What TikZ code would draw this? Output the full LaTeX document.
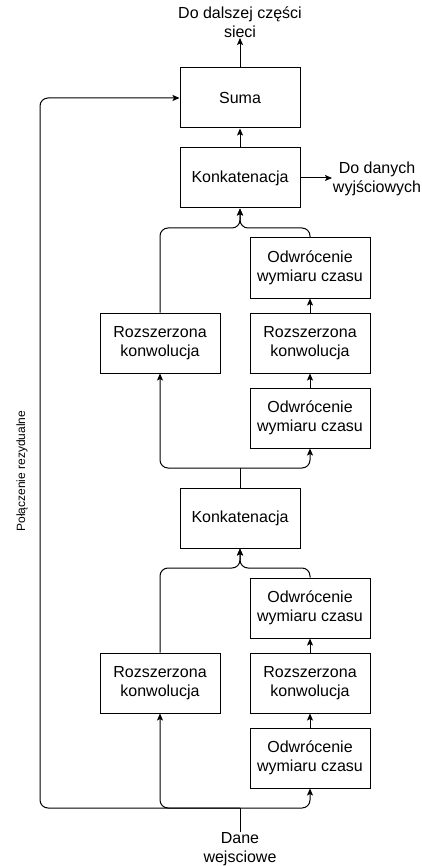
\documentclass[tikz,border=0pt]{standalone}
\usepackage{fontspec}
\setmainfont{Liberation Sans}
\usetikzlibrary{arrows.meta}
\begin{document}
\begin{tikzpicture}[x=1pt,y=-1pt,
  box/.style={draw,line width=1pt,minimum width=120pt,minimum height=60pt,inner sep=0pt,align=center,font=\fontsize{16}{19}\selectfont},
  lbl/.style={align=center,inner sep=0pt,font=\fontsize{16}{19}\selectfont},
  arr/.style={-{Stealth[length=7pt,width=6pt,inset=1.5pt]}},
  conn/.style={line width=1pt,rounded corners=8pt}]
\useasboundingbox (0,0) rectangle (421,866);
\node[box] (suma) at (240,98) {Suma};
\node[box] (konk1) at (240,178) {Konkatenacja};
\node[box] (o1) at (310,268) {Odwrócenie\\wymiaru czasu};
\node[box] (r1) at (310,343) {Rozszerzona\\konwolucja};
\node[box] (o2) at (310,418) {Odwrócenie\\wymiaru czasu};
\node[box] (rl1) at (160,343) {Rozszerzona\\konwolucja};
\node[box] (konk2) at (240,518) {Konkatenacja};
\node[box] (o3) at (310,608) {Odwrócenie\\wymiaru czasu};
\node[box] (r2) at (310,683) {Rozszerzona\\konwolucja};
\node[box] (o4) at (310,758) {Odwrócenie\\wymiaru czasu};
\node[box] (rl2) at (160,683) {Rozszerzona\\konwolucja};
\node[lbl,anchor=south] (out1) at (240,38) {Do dalszej części\\sieci};
\node[lbl] (out2) at (377,179) {Do danych\\wyjściowych};
\node[lbl,anchor=north] (inp) at (240,832) {Dane\\wejsciowe};
\node[rotate=90,font=\fontsize{12}{14}\selectfont] (res) at (22,471) {Połączenie rezydualne};
\coordinate (j1) at (240,228);
\coordinate (j2) at (240,468);
\coordinate (j3) at (240,568);
\coordinate (j4) at (240,808);
\coordinate (cL) at (40,808);
\coordinate (o2e) at (332,178);
% top
\draw[conn,arr] (suma.north) -- (out1.south);
\draw[conn,arr] (konk1.north) -- (suma.south);
\draw[conn,arr] (konk1.east) -- (o2e);
\draw[conn,arr] (rl1.north) |- (j1) -- (konk1.south);
\draw[conn,arr] (o1.north) |- (j1) -- (konk1.south);
\draw[conn,arr] (r1.north) -- (o1.south);
\draw[conn,arr] (o2.north) -- (r1.south);
\draw[conn] (konk2.north) -- (j2);
\draw[conn,arr] (j2) -| (rl1.south);
\draw[conn,arr] (j2) -| (o2.south);
% bottom
\draw[conn,arr] (rl2.north) |- (j3) -- (konk2.south);
\draw[conn,arr] (o3.north) |- (j3) -- (konk2.south);
\draw[conn,arr] (r2.north) -- (o3.south);
\draw[conn,arr] (o4.north) -- (r2.south);
\draw[conn] (inp.north) -- (j4);
\draw[conn,arr] (j4) -| (o4.south);
\draw[conn,arr] (j4) -| (rl2.south);
\draw[conn,arr] (j4) -- (cL) |- (suma.west);
\end{tikzpicture}
\end{document}
